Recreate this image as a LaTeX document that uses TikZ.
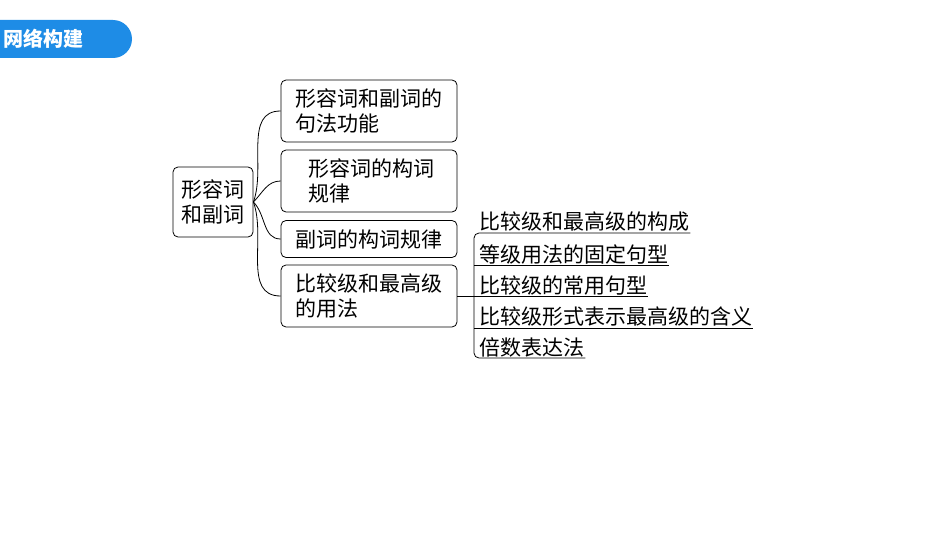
\documentclass[tikz,border=0pt]{standalone}
\usepackage{fontspec}
\setmainfont{Noto Sans CJK SC}
\begin{document}
\begin{tikzpicture}[x=1pt,y=-1pt,
    topic/.style={draw,thick,rounded corners=5pt,inner sep=3pt,align=left,font=\fontsize{21}{25}\selectfont},
    item/.style={anchor=south west,inner sep=1pt,font=\fontsize{21}{25}\selectfont}]
    \useasboundingbox (0,0) rectangle (950,535);
    % banner
    \fill[rounded corners=19pt,fill={rgb,255:red,30;green,140;blue,230}] (-30,20) rectangle (132,58);
    \node[text=white,font=\bfseries\fontsize{20}{24}\selectfont,anchor=west] (banner) at (0,39) {网络构建};

    \node[topic,minimum width=80pt,minimum height=70pt] (root) at (213,202) {形容词\\和副词};
    \node[topic,minimum width=176pt,minimum height=62pt] (func) at (369,111) {形容词和副词的\\句法功能};
    \node[topic,minimum width=176pt,minimum height=62pt] (adj) at (369,181) {\ 形容词的构词\\\ 规律};
    \node[topic,minimum width=176pt,minimum height=37pt] (adv) at (369,239) {副词的构词规律};
    \node[topic,minimum width=176pt,minimum height=62pt] (cmp) at (369,296) {比较级和最高级\\的用法};

    \draw[thick] (root.east) to[out=70,in=180] (func.west);
    \draw[thick] (root.east) to[out=45,in=180] (adj.west);
    \draw[thick] (root.east) to[out=-45,in=180] (adv.west);
    \draw[thick] (root.east) to[out=-70,in=180] (cmp.west);

    \node[item] (i1) at (478,233) {比较级和最高级的构成};
    \node[item] (i2) at (478,265) {等级用法的固定句型};
    \node[item] (i3) at (478,296) {比较级的常用句型};
    \node[item] (i4) at (478,328) {比较级形式表示最高级的含义};
    \node[item] (i5) at (478,358) {倍数表达法};

    \coordinate (fork) at (474,296);
    \draw[thick] (cmp.east) -- (fork);
    \draw[thick] (i1.south east) -- (480,233) [rounded corners=5pt] -- (474,233) -- (474,358) -- (i5.south east);
    \foreach \n in {i2,i3,i4} \draw[thick] (474,0 |- \n.south) -- (\n.south east);
\end{tikzpicture}
\end{document}
